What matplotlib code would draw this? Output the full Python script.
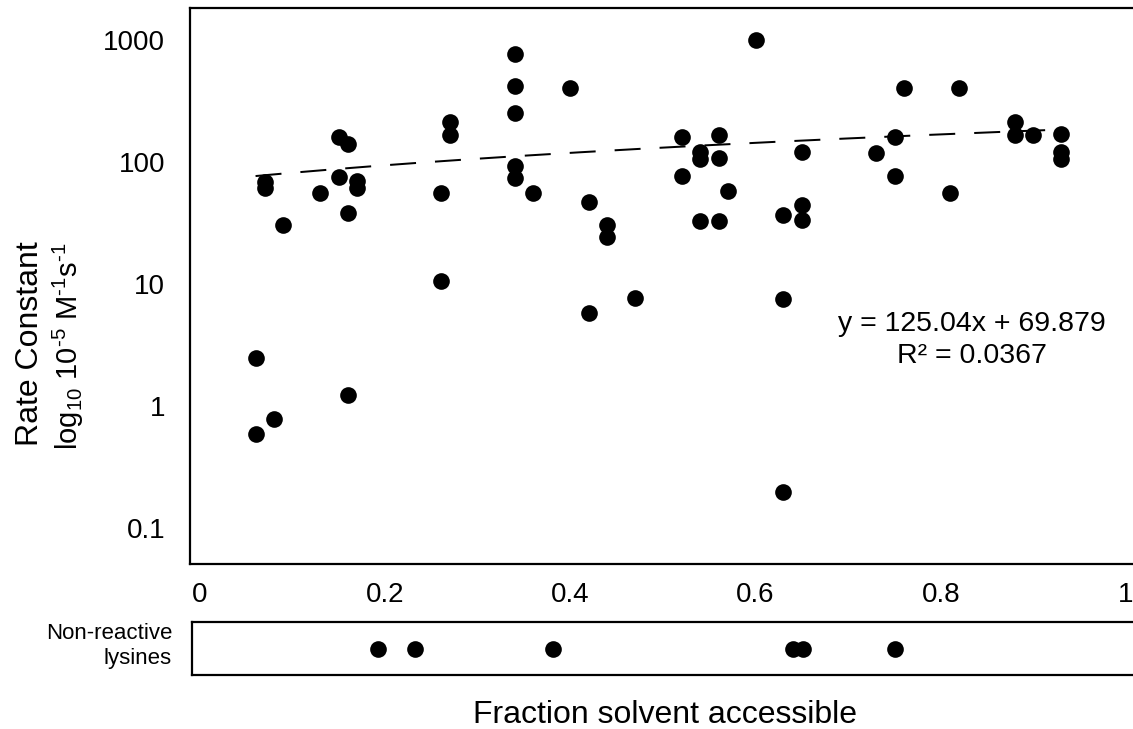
import numpy as np
import matplotlib
matplotlib.use('Agg')
import matplotlib.pyplot as plt

plt.rcParams['font.family'] = ['Liberation Sans', 'DejaVu Sans']
plt.rcParams['mathtext.fontset'] = 'custom'
plt.rcParams['mathtext.rm'] = 'Liberation Sans'
plt.rcParams['mathtext.it'] = 'Liberation Sans:italic'

# reactive lysines: fraction solvent accessible vs rate constant
frac = [0.06, 0.06, 0.08, 0.07, 0.07, 0.09, 0.13, 0.15, 0.16, 0.15, 0.16, 0.17, 0.17, 0.16,
        0.34, 0.34, 0.34, 0.40, 0.27, 0.27, 0.34, 0.34, 0.26, 0.36, 0.42, 0.44, 0.44, 0.26,
        0.47, 0.42, 0.52, 0.52, 0.54, 0.54, 0.56, 0.56, 0.57, 0.54, 0.56, 0.60, 0.63, 0.63,
        0.63, 0.65, 0.65, 0.65, 0.73, 0.75, 0.75, 0.76, 0.81, 0.82, 0.88, 0.88, 0.90, 0.93,
        0.93, 0.93]
rate = [2.5, 0.60, 0.79, 69, 62, 31, 56, 162, 142, 76, 38.5, 70, 62, 1.24,
        775, 424, 255, 408, 215, 168, 94, 75, 56, 56, 47, 31, 24.5, 10.7,
        7.7, 5.8, 162, 77, 122, 107, 168, 109, 58, 33, 33, 1010, 37, 7.6,
        0.20, 122, 45, 34, 120, 162, 77, 408, 56, 408, 215, 168, 168, 171,
        122, 107]

# non-reactive lysines (only x)
nonreactive = [0.19, 0.23, 0.38, 0.64, 0.65, 0.75]

# linear trendline reported on the chart
slope, intercept = 125.04, 69.879
fit_range = (0.06, 0.93)

yticks = [0.1, 1, 10, 100, 1000]
ytick_labels = ['0.1', '1', '10', '100', '1000']
xticks = [0, 0.2, 0.4, 0.6, 0.8, 1]
xtick_labels = ['0', '0.2', '0.4', '0.6', '0.8', '1']

W, H = 1133, 729
fig = plt.figure(figsize=(W / 100, H / 100), dpi=100)

def px_box(left, top, right, bottom):
    return [left / W, 1 - bottom / H, (right - left) / W, (bottom - top) / H]

xlim = (-10 / 926, 940 / 926)

ax = fig.add_axes(px_box(190, 8, 1140, 564))
ax.set_yscale('log')
ax.set_xlim(xlim)
ax.set_ylim(10 ** -1.291, 10 ** 3.266)

fx = np.linspace(fit_range[0], fit_range[1], 200)
ax.plot(fx, slope * fx + intercept, color='black', lw=1.44, dashes=(13, 9.5), zorder=3)
ax.plot(frac, rate, 'o', color='black', ms=12, mew=0, zorder=2)

ax.set_yticks(yticks)
ax.set_yticklabels(ytick_labels)
ax.yaxis.set_minor_locator(matplotlib.ticker.NullLocator())
ax.set_xticks(xticks)
ax.set_xticklabels(xtick_labels)
ax.tick_params(axis='both', length=0, labelsize=20)
ax.tick_params(axis='x', pad=13)
ax.tick_params(axis='y', pad=18)
for s in ax.spines.values():
    s.set_linewidth(1.6)
    s.set_color('black')

ax2 = fig.add_axes(px_box(192, 622, 1140, 675))
ax2.set_xlim(xlim)
ax2.set_ylim(0, 1)
ax2.plot(nonreactive, [0.5] * len(nonreactive), 'o', color='black', ms=12, mew=0)
ax2.set_xticks([])
ax2.set_yticks([])
for s in ax2.spines.values():
    s.set_linewidth(1.6)
    s.set_color('black')

fig.text(172 / W, 1 - 646 / H, 'Non-reactive\nlysines', ha='right', va='center',
         fontsize=16, multialignment='right', linespacing=1.25)

fig.text(972 / W, 1 - 340 / H, 'y = 125.04x + 69.879\nR\u00b2 = 0.0367', ha='center',
         va='center', fontsize=20.5, multialignment='center', linespacing=1.32)

fig.text(665 / W, 1 - 715 / H, 'Fraction solvent accessible', ha='center', va='center',
         fontsize=23)

fig.text(30 / W, 1 - 344 / H, 'Rate Constant', rotation=90, ha='center', va='center',
         fontsize=23)
fig.text(68 / W, 1 - 346 / H,
         r'log$_{10}$ 10$^{\text{-}5}$ M$^{\text{-}1}$s$^{\text{-}1}$', rotation=90,
         ha='center', va='center', fontsize=21)

fig.savefig('out.png', dpi=100)
